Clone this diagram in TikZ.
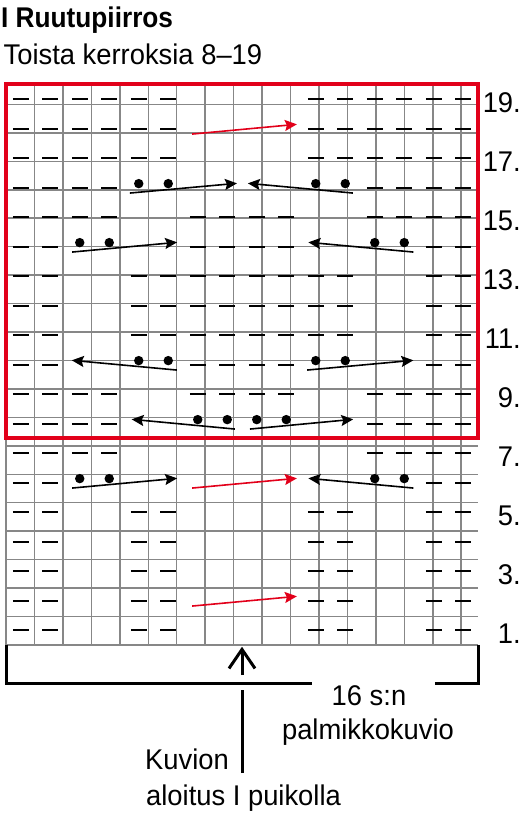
\documentclass[tikz,border=0pt]{standalone}
\usepackage{fontspec}
\setmainfont{Liberation Sans}[FakeStretch=0.96]
\newfontfamily\otsikkofont{Liberation Sans Bold}[FakeStretch=0.92]
\usetikzlibrary{arrows.meta}

\definecolor{punainen}{RGB}{226,0,26}
\definecolor{ruudukko}{RGB}{135,135,135}

\begin{document}
\begin{tikzpicture}[x=29.5pt,y=29.5pt,
	teksti/.style={inner sep=0pt,font=\fontsize{28.5}{34}\selectfont},
	nurja/.style={line width=2.2pt},
	nuoli/.style={line width=1.6pt,-{Stealth[length=12pt,width=11pt,inset=2pt]}},
	kehys/.style={line width=3pt}]

			\useasboundingbox (-0.2034,-5.8305) rectangle (17.4576,21.8644);

			%otsikko
			\node[teksti,font=\fontsize{28.5}{34}\otsikkofont,anchor=base west] (otsikko) at (-0.17,20.94) {I Ruutupiirros};
			\node[teksti,anchor=base west] (toisto) at (-0.085,19.685) {Toista kerroksia 8--19};

			%ruudukko
			\draw[ruudukko,line width=1.5pt] (0,0) grid (16,19);

			%nurjat silmukat
			\foreach \rivit/\sarakkeet in {{19,18,17}/{1,2,3,4,5,6,11,12,13,14,15,16},
				{16,8,7}/{1,2,3,4,13,14,15,16},
				{15,9}/{1,2,3,4,7,8,9,10,13,14,15,16},
				{14,10}/{1,2,7,8,9,10,15,16},
				{13,12,11}/{1,2,5,6,7,8,9,10,11,12,15,16},
				{6}/{1,2,15,16},
				{5,4,3,2,1}/{1,2,5,6,11,12,15,16}}
				\foreach \r in \rivit
					\foreach \c in \sarakkeet
						\draw[nurja] (\c-0.765,\r-0.5) -- ++(0.53,0);

			%pisteet
			\foreach \r/\c in {16/5,16/6,16/11,16/12,14/3,14/4,14/13,14/14,10/5,10/6,10/11,10/12,
				8/7,8/8,8/9,8/10,6/3,6/4,6/13,6/14}
				\fill (\c-0.5,\r-0.36) circle[radius=0.16];

			%palmikkonuolet
			\foreach \r/\a/\b in {16/4.20/7.83,16/11.76/8.20,14/2.24/5.80,14/13.81/10.25,
				10/5.79/2.23,10/10.21/13.81,8/7.76/4.26,8/8.27/11.77,6/2.24/5.80,6/13.81/10.25}
				\draw[nuoli] (\a,\r-0.68) -- (\b,\r-0.35);
			\foreach \r in {18,6,2}
				\draw[nuoli,punainen] (6.31,\r-0.68) -- (9.86,\r-0.35);

			%toistettavat kerrokset
			\draw[punainen,line width=4pt] (0,7) rectangle (16,19);

			%kerrosnumerot
			\foreach \r in {1,3,...,19}
				\node[teksti,anchor=base east] (rivi\r) at (17.458,\r-0.96) {\r.};

			%16 s:n kehys
			\draw[kehys] (0,0) -- (0,-1.298) -- (10.36,-1.298);
			\draw[kehys] (14.54,-1.298) -- (16,-1.298) -- (16,0);
			\node[teksti,anchor=base] (silmukat) at (12.305,-2.034) {16 s:n};
			\node[teksti,anchor=base] (kuvio) at (12.27,-3.22) {palmikkokuvio};

			%aloituskohta
			\node[teksti,anchor=base west] (kuvion) at (4.71,-4.237) {Kuvion};
			\node[teksti,anchor=base west] (aloitus) at (4.746,-5.424) {aloitus I puikolla};
			\coordinate (alku) at (8,-4.339);
			\coordinate (katko) at (8,-1.525);
			\coordinate (kanta) at (8,-1.017);
			\coordinate (karki) at (8,-0.06);
			\draw[kehys] (alku) -- (katko);
			\draw[kehys,-{Straight Barb[length=19pt,width=26pt]}] (kanta) -- (karki);

\end{tikzpicture}
\end{document}
